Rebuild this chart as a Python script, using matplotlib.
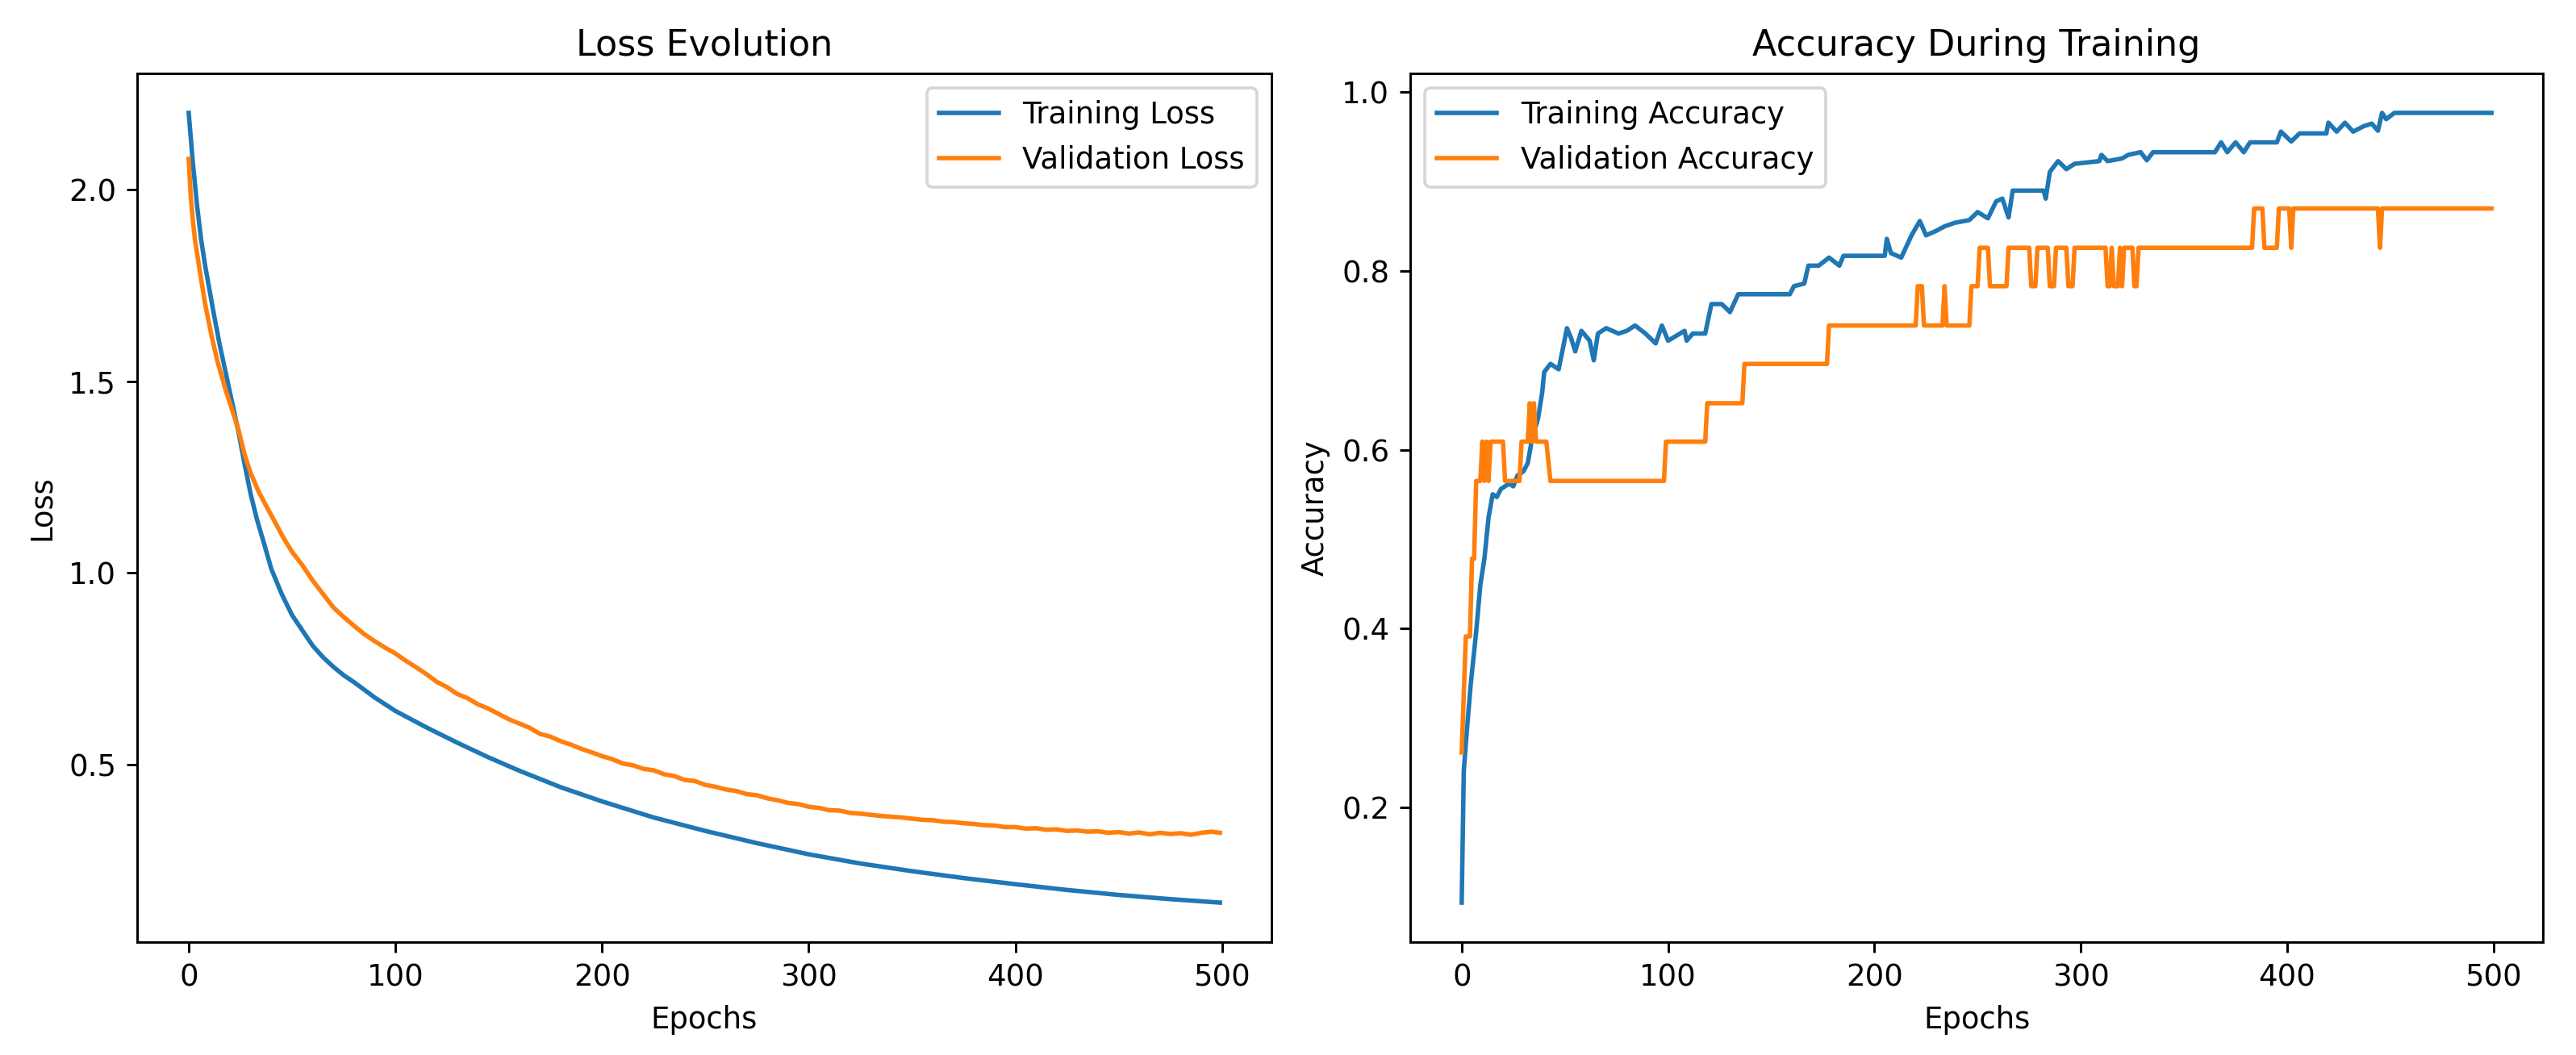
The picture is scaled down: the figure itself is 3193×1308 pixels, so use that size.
import numpy as np
import matplotlib
matplotlib.use("Agg")
import matplotlib.pyplot as plt

# --- loss curves ---
tl_ep = [0, 2, 4, 6, 8, 10, 12, 15, 18, 21, 24, 27, 30, 33, 36, 40, 45, 50, 55, 60,
         65, 70, 75, 80, 90, 100, 115, 130, 145, 160, 180, 200, 225, 250, 275, 300,
         325, 350, 375, 400, 425, 450, 475, 499]
train_loss = [2.20, 2.07, 1.96, 1.87, 1.80, 1.74, 1.68, 1.595, 1.52, 1.445, 1.37,
              1.285, 1.205, 1.14, 1.085, 1.01, 0.945, 0.89, 0.85, 0.81, 0.78, 0.755,
              0.733, 0.715, 0.675, 0.640, 0.597, 0.557, 0.519, 0.484, 0.441, 0.404,
              0.362, 0.327, 0.295, 0.266, 0.242, 0.222, 0.204, 0.188, 0.173, 0.160,
              0.149, 0.140]

vl_ep = [0, 1, 2, 3, 5, 8, 11, 14, 18, 21, 24, 27, 30, 34, 38, 42, 46, 50, 55, 60,
         65, 70, 75, 80, 85, 90, 95,
         100, 105, 110, 115, 120, 125, 130, 135, 140, 145, 150, 155, 160, 165, 170,
         175, 180, 185, 190, 195, 200, 205, 210, 215, 220, 225, 230, 235, 240, 245,
         250, 255, 260, 265, 270, 275, 280, 285, 290, 295, 300, 305, 310, 315, 320,
         325, 330, 335, 340, 345, 350, 355, 360, 365, 370, 375, 380, 385, 390, 395,
         400, 405, 410, 415, 420, 425, 430, 435, 440, 445, 450, 455, 460, 465, 470,
         475, 480, 485, 490, 495, 499]
val_loss = [2.08, 1.98, 1.92, 1.87, 1.80, 1.70, 1.62, 1.55, 1.475, 1.425, 1.375,
            1.31, 1.26, 1.21, 1.17, 1.13, 1.09, 1.055, 1.02, 0.98, 0.945, 0.91,
            0.885, 0.862, 0.84, 0.822, 0.805,
            0.790, 0.771, 0.754, 0.736, 0.716, 0.702, 0.684, 0.673, 0.657, 0.646,
            0.632, 0.618, 0.607, 0.596, 0.580, 0.573, 0.561, 0.552, 0.541, 0.532,
            0.522, 0.514, 0.503, 0.498, 0.489, 0.485, 0.475, 0.470, 0.460, 0.457,
            0.447, 0.442, 0.435, 0.431, 0.423, 0.420, 0.412, 0.407, 0.400, 0.397,
            0.390, 0.387, 0.381, 0.380, 0.374, 0.372, 0.369, 0.366, 0.364, 0.362,
            0.359, 0.356, 0.355, 0.351, 0.350, 0.347, 0.345, 0.342, 0.341, 0.337,
            0.337, 0.333, 0.334, 0.330, 0.331, 0.327, 0.328, 0.325, 0.326, 0.322,
            0.324, 0.320, 0.323, 0.318, 0.322, 0.319, 0.321, 0.317, 0.322, 0.325,
            0.322]

# --- accuracy curves ---
ta_ep = [0, 1, 2.5, 4.4, 7, 9, 11, 13, 15, 17, 19, 23, 25, 27, 30, 32, 34, 37, 39, 40,
         43, 47, 51, 53, 55, 58, 62, 64, 66, 70, 76, 80, 84, 89, 94, 97, 100, 108,
         109, 112, 118, 121, 126, 130, 134, 159, 161, 166, 168, 173, 178, 183, 185,
         205, 206, 208, 213, 218, 222, 225, 230, 234, 239, 246, 250, 255, 259, 262,
         265, 267, 282, 283, 285, 289, 293, 297, 309, 310, 313, 320, 323, 329, 332,
         335, 365, 368, 371, 375, 379, 382, 395, 397, 402, 406, 419, 420, 424, 428,
         432, 437, 441, 444, 446, 448, 452, 455, 499]
train_acc = [0.093, 0.24, 0.286, 0.338, 0.396, 0.448, 0.478, 0.524, 0.55, 0.547,
             0.556, 0.562, 0.559, 0.571, 0.576, 0.585, 0.611, 0.635, 0.664, 0.687,
             0.696, 0.69, 0.736, 0.725, 0.71, 0.733, 0.722, 0.70, 0.73, 0.736, 0.73,
             0.733, 0.739, 0.73, 0.719, 0.739, 0.722, 0.733, 0.722, 0.73, 0.73, 0.763,
             0.763, 0.754, 0.774, 0.774, 0.783, 0.786, 0.806, 0.806, 0.815, 0.806,
             0.817, 0.817, 0.836, 0.82, 0.815, 0.84, 0.856, 0.84, 0.845, 0.85, 0.854,
             0.857, 0.866, 0.859, 0.878, 0.881, 0.86, 0.89, 0.89, 0.881, 0.911, 0.923,
             0.914, 0.92, 0.923, 0.93, 0.923, 0.926, 0.93, 0.933, 0.924, 0.933, 0.933,
             0.944, 0.933, 0.944, 0.933, 0.944, 0.944, 0.956, 0.945, 0.954, 0.954,
             0.966, 0.956, 0.966, 0.956, 0.962, 0.965, 0.957, 0.977, 0.97, 0.977,
             0.977, 0.977]

va_ep = [0, 2, 4, 5, 6, 7, 9, 10, 11, 12, 13, 14, 20, 21, 28, 29, 32, 33, 34, 35, 36,
         41, 43, 98, 99, 118, 119, 136, 137, 177, 178, 220, 221, 223, 224, 233, 234,
         235, 246, 247, 250, 251, 255, 256, 264, 265, 275, 276, 278, 279, 284, 285,
         287, 288, 293, 294, 296, 297, 312, 313, 314, 315, 316, 318, 319, 320, 321,
         325, 326, 327, 328, 383, 384, 388, 389, 395, 396, 401, 402, 403, 444, 445,
         446, 499]
val_acc = [0.261, 0.391, 0.391, 0.478, 0.478, 0.565, 0.565, 0.609, 0.565, 0.609,
           0.565, 0.609, 0.609, 0.565, 0.565, 0.609, 0.609, 0.652, 0.609, 0.652,
           0.609, 0.609, 0.565, 0.565, 0.609, 0.609, 0.652, 0.652, 0.696, 0.696,
           0.739, 0.739, 0.783, 0.783, 0.739, 0.739, 0.783, 0.739, 0.739, 0.783,
           0.783, 0.826, 0.826, 0.783, 0.783, 0.826, 0.826, 0.783, 0.783, 0.826,
           0.826, 0.783, 0.783, 0.826, 0.826, 0.783, 0.783, 0.826, 0.826, 0.783,
           0.783, 0.826, 0.783, 0.783, 0.826, 0.783, 0.826, 0.826, 0.783, 0.783,
           0.826, 0.826, 0.870, 0.870, 0.826, 0.826, 0.870, 0.870, 0.826, 0.870,
           0.870, 0.826, 0.870, 0.870]

W, H, DPI = 3193, 1308, 266
fig = plt.figure(figsize=(W / DPI, H / DPI), dpi=DPI)

bottom = 1 - 1168 / H
height = (1168 - 91) / H
ax1 = fig.add_axes([170 / W, bottom, 1406 / W, height])
ax2 = fig.add_axes([1748 / W, bottom, 1404 / W, height])

ax1.plot(tl_ep, train_loss, label='Training Loss')
ax1.plot(vl_ep, val_loss, label='Validation Loss')
ax1.set_title('Loss Evolution')
ax1.set_xlabel('Epochs')
ax1.set_ylabel('Loss')
ax1.legend()

ax2.plot(ta_ep, train_acc, label='Training Accuracy')
ax2.plot(va_ep, val_acc, label='Validation Accuracy')
ax2.set_title('Accuracy During Training')
ax2.set_xlabel('Epochs')
ax2.set_ylabel('Accuracy')
ax2.legend()

fig.savefig('out.png', dpi=DPI)
